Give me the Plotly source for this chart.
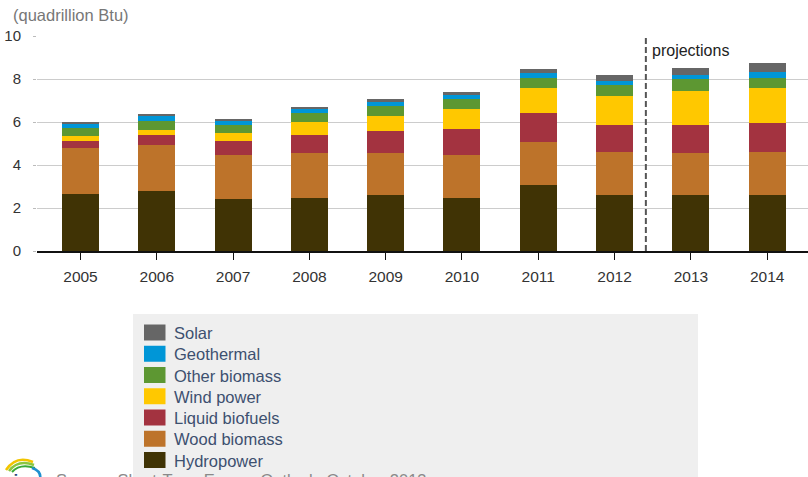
import plotly.graph_objects as go

years = ["2005", "2006", "2007", "2008", "2009", "2010", "2011", "2012", "2013", "2014"]
series_names = ["Hydropower", "Wood biomass", "Liquid biofuels", "Wind power",
                "Other biomass", "Geothermal", "Solar"]
hydropower = [2.67, 2.79, 2.42, 2.48, 2.60, 2.48, 3.09, 2.62, 2.62, 2.62]
wood_biomass = [2.13, 2.13, 2.05, 2.06, 1.94, 1.99, 1.99, 1.98, 1.92, 1.98]
liquid_biofuels = [0.32, 0.47, 0.65, 0.86, 1.05, 1.20, 1.32, 1.27, 1.33, 1.34]
wind_power = [0.22, 0.25, 0.35, 0.60, 0.67, 0.92, 1.20, 1.33, 1.59, 1.66]
other_biomass = [0.39, 0.42, 0.39, 0.40, 0.47, 0.47, 0.47, 0.51, 0.53, 0.47]
geothermal = [0.21, 0.23, 0.23, 0.20, 0.20, 0.20, 0.20, 0.21, 0.20, 0.26]
solar = [0.04, 0.05, 0.05, 0.10, 0.12, 0.12, 0.19, 0.26, 0.33, 0.41]
series_values = [hydropower, wood_biomass, liquid_biofuels, wind_power,
                 other_biomass, geothermal, solar]
colors = ["#403305", "#bd732a", "#a33340", "#ffc800", "#5d9732", "#0096d7", "#666666"]
y_ticks = [0, 2, 4, 6, 8, 10]
projection_boundary = 7.41

W, H = 808, 477
L, R, T, B = 37, 0, 36, 226
pw, ph = W - L - R, H - T - B
FONT = "Liberation Sans, Arial"

def px(x):
    return (x - L) / pw

def py(y):
    return (H - B - y) / ph

fig = go.Figure()
for name, vals, col in zip(series_names, series_values, colors):
    fig.add_trace(go.Bar(x=years, y=vals, name=name, marker_color=col,
                         marker_line_width=0, width=0.485, showlegend=False))

shapes = []
annotations = []
# dashed projection line
shapes.append(dict(type="line", xref="x", yref="y", x0=projection_boundary, x1=projection_boundary,
                   y0=0, y1=10, line=dict(color="#555555", width=2, dash="6px,3px")))
annotations.append(dict(text="projections", xref="paper", yref="paper", x=px(650), y=py(50),
                        xanchor="left", yanchor="middle", showarrow=False,
                        font=dict(size=16, color="#222222", family=FONT)))
# y-axis title
annotations.append(dict(text="(quadrillion Btu)", xref="paper", yref="paper", x=px(11), y=py(15),
                        xanchor="left", yanchor="middle", showarrow=False,
                        font=dict(size=16.5, color="#777777", family=FONT)))
# legend box
shapes.append(dict(type="rect", xref="paper", yref="paper", x0=px(133), x1=px(698),
                   y0=py(490), y1=py(314), fillcolor="#efefef", line=dict(width=0), layer="above"))
legend_order = list(zip(series_names, colors))[::-1]
for i, (name, col) in enumerate(legend_order):
    cy = 332.5 + i * 21.25
    shapes.append(dict(type="rect", xref="paper", yref="paper", x0=px(144), x1=px(165.5),
                       y0=py(cy + 8), y1=py(cy - 8), fillcolor=col, line=dict(width=0), layer="above"))
    annotations.append(dict(text=name, xref="paper", yref="paper", x=px(172), y=py(cy + 0.5),
                            xanchor="left", yanchor="middle", showarrow=False,
                            font=dict(size=16.5, color="#3d5070", family=FONT)))
# source note (cut off at bottom, as in the original)
annotations.append(dict(text="Source: Short-Term Energy Outlook, October 2013", xref="paper", yref="paper",
                        x=px(54), y=py(480), xanchor="left", yanchor="middle", showarrow=False,
                        font=dict(size=16.5, color="#8a8a8a", family=FONT)))
# logo arcs
def arc(x0, y0, xc, yc, x1, y1):
    return f"M{px(x0)},{py(y0)} Q{px(xc)},{py(yc)} {px(x1)},{py(y1)}"
shapes.append(dict(type="path", xref="paper", yref="paper", path=arc(6, 470, 16, 455, 33, 462),
                   line=dict(color="#f2c500", width=2.5)))
shapes.append(dict(type="path", xref="paper", yref="paper", path=arc(9, 471, 18, 459, 34, 465),
                   line=dict(color="#8cc63f", width=2.5)))
shapes.append(dict(type="path", xref="paper", yref="paper", path=arc(12, 472, 20, 463, 35, 468),
                   line=dict(color="#3aaa35", width=2)))
shapes.append(dict(type="path", xref="paper", yref="paper", path=arc(32, 468, 42, 471, 40, 480),
                   line=dict(color="#1f8fcf", width=2.5)))
annotations.append(dict(text="<b>eia</b>", xref="paper", yref="paper", x=px(2), y=py(480),
                        xanchor="left", yanchor="middle", showarrow=False,
                        font=dict(size=17, color="#2a4a7a", family=FONT)))

fig.update_layout(
    barmode="stack",
    width=W, height=H,
    margin=dict(l=L, r=R, t=T, b=B, pad=0),
    paper_bgcolor="white", plot_bgcolor="white",
    shapes=shapes, annotations=annotations,
    font=dict(family=FONT, color="#333333"),
    xaxis=dict(type="category", range=[-0.570, 9.535], showgrid=False, showline=True,
               linecolor="#111111", linewidth=1.5, ticks="outside", ticklen=7, tickwidth=1,
               tickcolor="#111111", tickfont=dict(size=15.5, color="#333333"),
               ticklabelstandoff=4),
    yaxis=dict(range=[0, 10], tickvals=y_ticks, showgrid=True, gridcolor="#cccccc", gridwidth=1.2,
               zeroline=False, showline=False, ticks="outside", ticklen=3, tickcolor="#bbbbbb",
               tickfont=dict(size=15, color="#333333"), ticklabelstandoff=9),
    showlegend=False,
)
fig.write_html("out.html")
